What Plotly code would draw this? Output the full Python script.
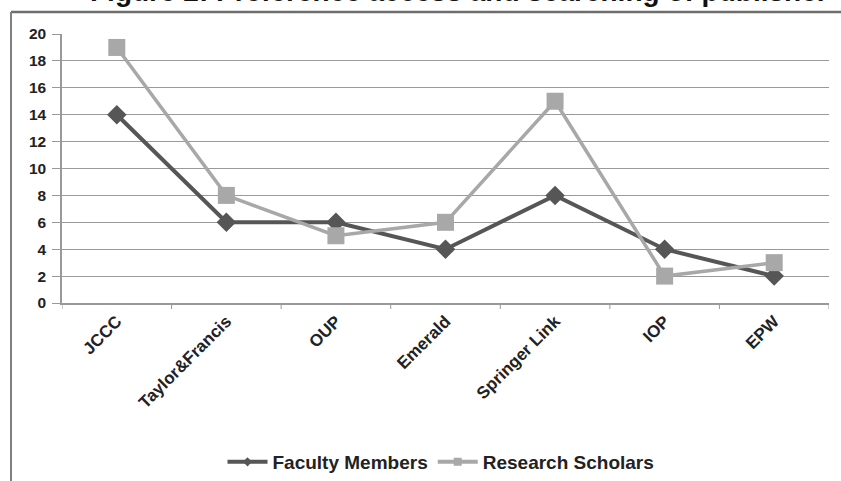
import plotly.graph_objects as go

categories = ["JCCC", "Taylor&Francis", "OUP", "Emerald", "Springer Link", "IOP", "EPW"]
faculty = [14, 6, 6, 4, 8, 4, 2]
research = [19, 8, 5, 6, 15, 2, 3]
y_ticks = [0, 2, 4, 6, 8, 10, 12, 14, 16, 18, 20]

W, H = 841, 481
L, R, T, B = 62, 12, 34, 178
pw = W - L - R
ph = H - T - B
FONT = "Liberation Sans, Arial"
C_FAC = "#565656"
C_RES = "#a8a8a8"

fig = go.Figure()
fig.add_trace(go.Scatter(
    x=categories, y=faculty, name="Faculty Members", mode="lines+markers",
    line=dict(color=C_FAC, width=4),
    marker=dict(symbol="diamond", size=15, color=C_FAC),
    showlegend=False,
))
fig.add_trace(go.Scatter(
    x=categories, y=research, name="Research Scholars", mode="lines+markers",
    line=dict(color=C_RES, width=3.5),
    marker=dict(symbol="square", size=17, color=C_RES),
    showlegend=False,
))
# legend entries (small markers like the reference)
fig.add_trace(go.Scatter(
    x=[None], y=[None], name="<b>Faculty Members</b>", mode="lines+markers",
    line=dict(color=C_FAC, width=4),
    marker=dict(symbol="diamond", size=7, color=C_FAC),
))
fig.add_trace(go.Scatter(
    x=[None], y=[None], name="<b>Research Scholars</b>", mode="lines+markers",
    line=dict(color=C_RES, width=4),
    marker=dict(symbol="square", size=8, color=C_RES),
))

fig.update_layout(
    width=W, height=H,
    margin=dict(l=L, r=R, t=T, b=B, autoexpand=False),
    paper_bgcolor="white", plot_bgcolor="white",
    font=dict(family=FONT, color="#222222"),
    showlegend=True,
    legend=dict(
        orientation="h", x=(441 - L) / pw, xanchor="center",
        y=-(B - 19) / ph, yanchor="middle",
        font=dict(size=19, family=FONT, color="#222222"),
        itemwidth=40, tracegroupgap=0,
    ),
    xaxis=dict(
        type="category", range=[-0.5, 6.5],
        tickvals=categories, ticktext=[f"<b>{c}</b>" for c in categories],
        showline=True, linecolor="#999999", linewidth=1.5,
        ticks="", tickangle=-45, showgrid=False,
        tickfont=dict(size=17, family=FONT, color="#222222"),
    ),
    yaxis=dict(
        range=[0, 20], tickvals=y_ticks, ticktext=[f"<b>{v}</b>" for v in y_ticks],
        showline=True, linecolor="#999999", linewidth=1.5,
        showgrid=True, gridcolor="#9a9a9a", gridwidth=1.3,
        ticks="outside", ticklen=8, tickcolor="#999999",
        ticklabelstandoff=3,
        tickfont=dict(size=15.5, family=FONT, color="#222222"),
        zeroline=False,
    ),
)

# category boundary tick marks on x axis
for i in range(len(categories) + 1):
    fig.add_shape(type="line", xref="x", yref="paper",
                  x0=i - 0.5, x1=i - 0.5, y0=0, y1=-6 / ph,
                  line=dict(color="#999999", width=1))

# outer border: top and left edges of the chart frame
top_y = 1 + (T - 12) / ph
left_x = (11 - L) / pw
fig.add_shape(type="line", xref="paper", yref="paper",
              x0=left_x, x1=(W - L) / pw, y0=top_y, y1=top_y,
              line=dict(color="#6e6e6e", width=2.5), layer="above")
fig.add_shape(type="line", xref="paper", yref="paper",
              x0=left_x, x1=left_x, y0=-(B + 5) / ph, y1=top_y,
              line=dict(color="#808080", width=2), layer="above")

# title (partially cut at the top, as in the reference)
fig.add_annotation(
    text="<b>Figure 2: Preference access and searching of publisher</b>",
    xref="paper", yref="paper", x=(459 - L) / pw, y=1 + (T + 9) / ph,
    xanchor="center", yanchor="middle", showarrow=False,
    font=dict(size=28, family=FONT, color="#111111"),
)

fig.write_html("out.html", config={"displayModeBar": False},
               post_script="document.body.style.margin='0px';")
